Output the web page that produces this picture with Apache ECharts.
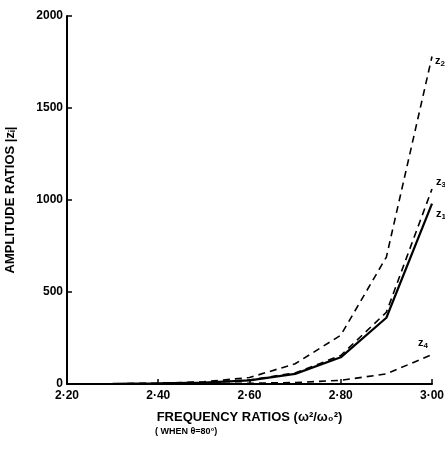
<!DOCTYPE html>
<html>
<head>
<meta charset="utf-8">
<script src="https://cdn.jsdelivr.net/npm/echarts@6/dist/echarts.min.js"></script>
<style>
  html, body { margin: 0; padding: 0; background: #fff; }
  #chart { width: 445px; height: 451px; }
</style>
</head>
<body>
<div id="chart"></div>
<script>
// frequency ratios (w^2 / w0^2)
var ratios = [2.2, 2.3, 2.4, 2.5, 2.6, 2.7, 2.8, 2.9, 3.0];
// amplitude ratios
var z1 = [0, 1, 3, 8, 20, 55, 145, 360, 980];
var z2 = [0, 1, 4, 12, 35, 110, 265, 690, 1780];
var z3 = [0, 1, 3, 9, 22, 60, 155, 390, 1060];
var z4 = [0, 0, 1, 2, 4, 8, 20, 55, 160];
var seriesNames = ["z1", "z2", "z3", "z4"];
var endSubs = ["1", "2", "3", "4"];

(function () {
  var myChart = echarts.init(document.getElementById("chart"));
  var font = "'Liberation Sans', 'DejaVu Sans', sans-serif";

  function pairs(vals) {
    return ratios.map(function (x, i) { return [x, vals[i]]; });
  }

  function endLabel(sub, offset) {
    return {
      show: true,
      offset: offset,
      formatter: "{z|z}{s|" + sub + "}",
      rich: {
        z: { fontFamily: font, fontWeight: "bold", fontSize: 11, color: "#000" },
        s: { fontFamily: font, fontWeight: "bold", fontSize: 8, color: "#000", verticalAlign: "bottom", padding: [6, 0, 0, 0] }
      }
    };
  }

  var option = {
    animation: false,
    grid: { left: 67, right: 13, top: 16, bottom: 67, outerBoundsMode: "none" },
    xAxis: {
      type: "value",
      min: 2.2,
      max: 3.0,
      interval: 0.2,
      name: "FREQUENCY RATIOS (ω²/ω₀²)",
      nameLocation: "middle",
      nameGap: 27,
      nameTextStyle: { fontFamily: font, fontWeight: "bold", fontSize: 13, color: "#000" },
      axisLine: { lineStyle: { color: "#000", width: 2 } },
      axisTick: { inside: true, length: 5, lineStyle: { color: "#000", width: 1.5 } },
      axisLabel: {
        fontFamily: font, fontWeight: "bold", fontSize: 12, color: "#000", margin: 6,
        formatter: function (v) { return v.toFixed(2).replace(".", "·"); }
      },
      splitLine: { show: false }
    },
    yAxis: {
      type: "value",
      min: 0,
      max: 2000,
      interval: 500,
      name: "AMPLITUDE RATIOS |zᵢ|",
      nameLocation: "middle",
      nameGap: 50,
      nameTextStyle: { fontFamily: font, fontWeight: "bold", fontSize: 13, color: "#000" },
      axisLine: { show: true, lineStyle: { color: "#000", width: 2 } },
      axisTick: { show: true, inside: true, length: 5, lineStyle: { color: "#000", width: 1.5 } },
      axisLabel: {
        fontFamily: font, fontWeight: "bold", fontSize: 12, color: "#000", margin: 4,
        formatter: function (v) { return String(v); }
      },
      splitLine: { show: false }
    },
    graphic: [{
      type: "text",
      left: 155,
      top: 427,
      style: { text: "( WHEN θ=80°)", font: "bold 9px " + font, fill: "#000" }
    }],
    series: [
      {
        name: seriesNames[0], type: "line", data: pairs(z1), symbol: "none",
        lineStyle: { color: "#000", width: 2.2, type: "solid" },
        endLabel: endLabel(endSubs[0], [-4, 10])
      },
      {
        name: seriesNames[1], type: "line", data: pairs(z2), symbol: "none",
        lineStyle: { color: "#000", width: 1.6, type: [7, 5] },
        endLabel: endLabel(endSubs[1], [-5, 4])
      },
      {
        name: seriesNames[2], type: "line", data: pairs(z3), symbol: "none",
        lineStyle: { color: "#000", width: 1.6, type: [7, 5] },
        endLabel: endLabel(endSubs[2], [-4, -7])
      },
      {
        name: seriesNames[3], type: "line", data: pairs(z4), symbol: "none",
        lineStyle: { color: "#000", width: 1.6, type: [7, 5] },
        endLabel: endLabel(endSubs[3], [-22, -12])
      }
    ]
  };

  myChart.setOption(option);
  window.addEventListener("resize", function () {
    myChart.resize();
  });
})();
</script>
</body>
</html>
